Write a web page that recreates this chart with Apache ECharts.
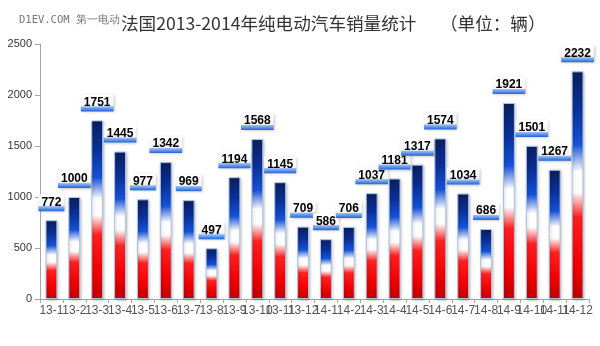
<!DOCTYPE html>
<html><head><meta charset="utf-8">
<script src="https://cdn.jsdelivr.net/npm/echarts@6/dist/echarts.min.js"></script>
<style>html,body{margin:0;padding:0;background:#fff}#c{width:600px;height:346px}</style>
</head><body><div id="c"></div>
<script>
var categories = ['13-1','13-2','13-3','13-4','13-5','13-6','13-7','13-8','13-9','13-10','13-11','13-12','14-1','14-2','14-3','14-4','14-5','14-6','14-7','14-8','14-9','14-10','14-11','14-12'];
var sales = [772,1000,1751,1445,977,1342,969,497,1194,1568,1145,709,586,706,1037,1181,1317,1574,1034,686,1921,1501,1267,2232];
var yTicks = [0,500,1000,1500,2000,2500];
var titleText = '法国2013-2014年纯电动汽车销量统计      （单位：辆）';
var watermark = 'D1EV.COM 第一电动';

var chart = echarts.init(document.getElementById('c'));
var barGrad = new echarts.graphic.LinearGradient(0,0,0,1,[
  {offset:0,color:'#0c1f5e'},
  {offset:0.16,color:'#0a2f96'},
  {offset:0.32,color:'#1652d8'},
  {offset:0.44,color:'#ffffff'},
  {offset:0.53,color:'#ffffff'},
  {offset:0.64,color:'#ff2020'},
  {offset:0.85,color:'#f20000'},
  {offset:1,color:'#c00000'}
]);
var labelGrad = new echarts.graphic.LinearGradient(0,0,0,1,[
  {offset:0,color:'#ffffff'},
  {offset:0.68,color:'#f5f5f5'},
  {offset:0.72,color:'#9cbff5'},
  {offset:1,color:'#2063d8'}
]);
var cjk = "'Noto Sans CJK SC', sans-serif";
chart.setOption({
  animation:false,
  title:[{text:titleText,left:116,top:10,textStyle:{fontFamily:cjk,fontSize:17.6,fontWeight:'normal',color:'#333'}},
         {text:watermark,left:14,top:10,textStyle:{fontFamily:"'DejaVu Sans Mono', monospace",fontSize:10.5,fontWeight:'normal',color:'#777'}}],
  grid:{left:40,right:11,top:44,bottom:47},
  xAxis:{type:'category',data:categories,
    axisLine:{lineStyle:{color:'#a6a6a6'}},
    axisTick:{show:true,length:4,lineStyle:{color:'#a6a6a6'}},
    axisLabel:{interval:0,color:'#555',fontSize:12,fontFamily:"'Liberation Sans', sans-serif",margin:6}},
  yAxis:{type:'value',min:yTicks[0],max:yTicks[yTicks.length-1],interval:500,
    axisLine:{show:true,lineStyle:{color:'#a6a6a6'}},
    axisTick:{show:true,length:5,lineStyle:{color:'#a6a6a6'}},
    splitLine:{show:false},
    axisLabel:{color:'#333',fontSize:11,fontFamily:"'Liberation Sans', sans-serif",margin:8,formatter:function(v){return String(v);}}},
  series:[{type:'bar',data:sales,barWidth:'52%',
    itemStyle:{color:barGrad,borderColor:'#a9c3e3',borderWidth:1,shadowColor:'rgba(0,0,0,0.25)',shadowBlur:3,shadowOffsetX:1,shadowOffsetY:1},
    label:{show:true,position:'top',distance:9,color:'#000',fontWeight:'bold',fontSize:12,fontFamily:"'Liberation Sans', sans-serif",
      backgroundColor:labelGrad,padding:[2,3,3,3],
      shadowColor:'rgba(0,0,0,0.25)',shadowBlur:3,shadowOffsetX:1,shadowOffsetY:1}
  }]
});
</script></body></html>
